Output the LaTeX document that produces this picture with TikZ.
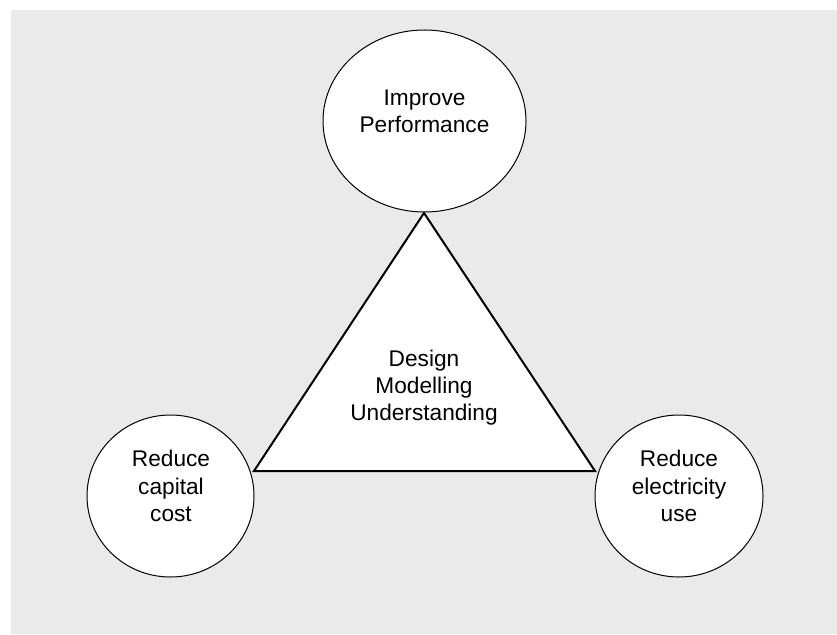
\documentclass[tikz,border=0pt]{standalone}
\usepackage{fontspec}
\setmainfont{Liberation Sans}
\usetikzlibrary{shapes.geometric}
\definecolor{panelgray}{RGB}{234,234,234}
\tikzset{every picture/.style={line width=0.75pt}}
\tikzset{
  goal/.style={draw, ellipse, fill=white, inner sep=0pt},
  goaltext/.style={inner sep=0.75pt, align=center, font=\fontsize{17}{20.5}\selectfont},
}
\begin{document}
\begin{tikzpicture}[x=0.75pt,y=0.75pt,yscale=-1,xscale=1]
\useasboundingbox (0,0) rectangle (837,634);

%Shape: Rectangle [background]
\fill [panelgray] (11,10) rectangle (837,634);

%Shape: Triangle [core]
\coordinate (apex) at (424,213);
\coordinate (cornerleft) at (254,471);
\coordinate (cornerright) at (595,471);
\draw [line width=1.5, fill=white] (apex) -- (cornerleft) -- (cornerright) -- cycle ;

%Shape: Ellipse [top]
\node [goal, minimum width=152.25pt, minimum height=136.5pt] (perf) at (424.5,121) {};
%Shape: Ellipse [left]
\node [goal, minimum width=125.25pt, minimum height=121.5pt] (capital) at (170.5,496) {};
%Shape: Ellipse [right]
\node [goal, minimum width=126pt, minimum height=121.5pt] (elec) at (679,496) {};

% Text Node
\node [goaltext] (perftext) at (424.5,111.5) {Improve\\Performance};
% Text Node
\node [goaltext] (coretext) at (424,387.5) {Design\\Modelling\\Understanding};
% Text Node
\node [goaltext] (capitaltext) at (171,486) {Reduce\\capital\\cost};
% Text Node
\node [goaltext] (electext) at (679,486) {Reduce\\electricity\\use};

\end{tikzpicture}
\end{document}
